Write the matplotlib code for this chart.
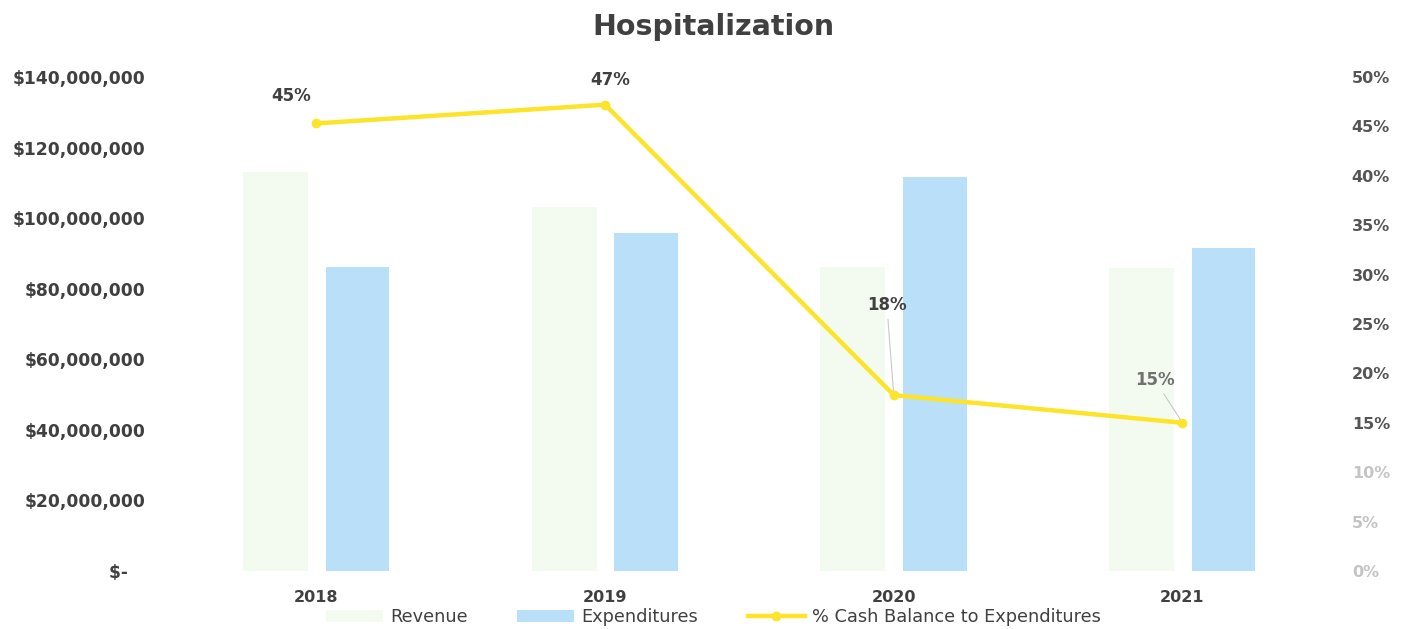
import matplotlib.pyplot as plt
import numpy as np
from matplotlib.ticker import FuncFormatter, PercentFormatter

plt.rcParams['font.family'] = ['DejaVu Sans']

years = ['2018', '2019', '2020', '2021']
revenue = [113.1e6, 103.2e6, 86.2e6, 85.9e6]
expenditures = [86.2e6, 95.8e6, 111.7e6, 91.5e6]
cash_pct = [0.453, 0.472, 0.178, 0.150]

# label offsets (points) for the percentage annotations
label_offsets = [(-18, 20), (4, 18), (-5, 65), (-20, 31)]
label_colors = ['#404040', '#404040', '#404040', '#707070']
leader = [False, False, True, True]

REV_COLOR = '#F3FBF0'
EXP_COLOR = '#B9E0F8'
LINE_COLOR = '#FBE42A'
TEXT_COLOR = '#404040'

fig = plt.figure(figsize=(14.1, 6.29), dpi=100)
ax = fig.add_axes([0.122, 0.0922, 0.819, 0.7854])
ax2 = ax.twinx()

x = np.arange(len(years))
ax.bar(x - 0.142, revenue, width=0.225, color=REV_COLOR, label='Revenue', zorder=1)
ax.bar(x + 0.142, expenditures, width=0.22, color=EXP_COLOR, label='Expenditures', zorder=1)

ax.set_ylim(0, 140e6)
ax.set_yticks(np.arange(0, 140e6 + 1, 20e6))
ax.yaxis.set_major_formatter(FuncFormatter(lambda v, p: '$-   ' if v == 0 else '${:,.0f}'.format(v)))
ax.set_xlim(-0.5, 3.5)
ax.set_xticks(x)
ax.set_xticklabels(years)
ax.tick_params(axis='y', length=0, pad=19, labelsize=12.3, labelcolor=TEXT_COLOR)
ax.tick_params(axis='x', length=0, pad=14, labelsize=11.5, labelcolor=TEXT_COLOR)
for lbl in ax.get_yticklabels() + ax.get_xticklabels():
    lbl.set_fontweight('bold')

ax2.plot(x, cash_pct, color=LINE_COLOR, lw=3.2, marker='o', ms=6,
         label='% Cash Balance to Expenditures', zorder=3)
ax2.set_ylim(0, 0.5)
ax2.set_yticks(np.arange(0, 0.501, 0.05))
ax2.yaxis.set_major_formatter(PercentFormatter(1.0, decimals=0))
ax2.tick_params(axis='y', length=0, pad=18, labelsize=11.5, labelcolor='#555555')
for i, lbl in enumerate(ax2.get_yticklabels()):
    lbl.set_fontweight('bold')
    if i < 3:
        lbl.set_color('#C4C4C4')

for i, v in enumerate(cash_pct):
    props = dict(arrowstyle='-', color='#C8C8C8', lw=0.8, shrinkA=2, shrinkB=3) if leader[i] else None
    ax2.annotate('{:.0%}'.format(v), (x[i], v), xytext=label_offsets[i], textcoords='offset points',
                 ha='center', va='center', fontsize=12, fontweight='bold', color=label_colors[i],
                 arrowprops=props)

for a in (ax, ax2):
    for s in a.spines.values():
        s.set_visible(False)

fig.text(0.506, 0.957, 'Hospitalization', ha='center', va='center', fontsize=20.5,
         fontweight='bold', color=TEXT_COLOR)

h1, l1 = ax.get_legend_handles_labels()
h2, l2 = ax2.get_legend_handles_labels()
fig.legend(h1 + h2, l1 + l2, loc='center', bbox_to_anchor=(0.506, 0.019), ncol=3, frameon=False,
           fontsize=12.8, handlelength=3.2, handletextpad=0.4, columnspacing=2.8,
           labelcolor=TEXT_COLOR)

fig.savefig('out.png', dpi=100)
